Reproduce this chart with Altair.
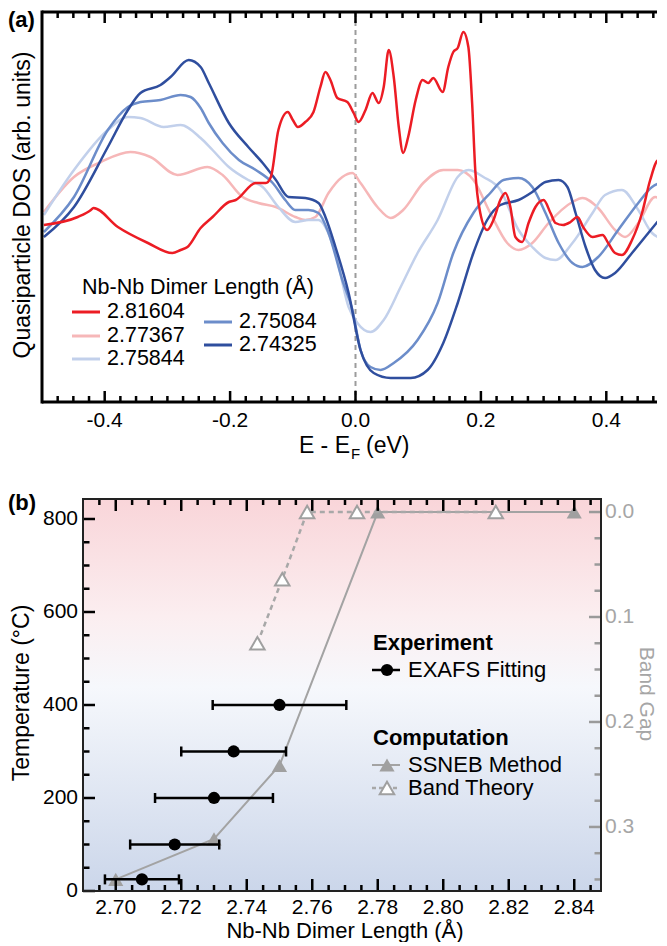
import altair as alt
import pandas as pd

FONT = "Liberation Sans"

# ---------------- Panel (a): quasiparticle DOS (arb. units) vs E - EF (eV) ----------------
E_81604 = [-0.497,-0.443,-0.422,-0.418,-0.379,-0.331,-0.292,-0.279,-0.268,-0.247,-0.228,-0.202,-0.191,-0.159,-0.143,-0.135,-0.123,-0.108,-0.100,-0.092,-0.080,-0.067,-0.056,-0.048,-0.040,-0.029,-0.013,-0.003,0.005,0.016,0.027,0.037,0.045,0.053,0.061,0.069,0.076,0.084,0.096,0.107,0.116,0.124,0.139,0.148,0.156,0.163,0.172,0.180,0.186,0.191,0.199,0.210,0.220,0.231,0.239,0.247,0.255,0.266,0.276,0.287,0.300,0.311,0.319,0.331,0.343,0.354,0.363,0.378,0.394,0.403,0.414,0.425,0.441,0.457,0.470,0.483,0.491,0.497]
DOS_81604 = [177,185,192,194,175,159,149,152,155,174,185,200,202,219,219,225,272,290,282,275,280,290,315,330,322,304,300,289,280,292,309,299,315,352,325,275,249,265,302,322,319,324,310,335,350,354,370,355,299,232,189,172,182,202,209,195,165,160,179,195,202,189,179,177,180,185,175,165,167,159,149,147,162,189,222,242,235,222]

E_77367 = [-0.497,-0.449,-0.406,-0.359,-0.327,-0.284,-0.236,-0.212,-0.180,-0.155,-0.127,-0.096,-0.080,-0.064,-0.043,-0.021,-0.005,0.008,0.035,0.056,0.076,0.108,0.140,0.163,0.188,0.215,0.242,0.260,0.282,0.308,0.346,0.362,0.387,0.414,0.430,0.451,0.478,0.497]
DOS_77367 = [190,225,240,250,245,227,235,227,205,199,195,185,182,185,209,225,229,219,195,184,192,219,232,232,222,189,159,152,159,179,200,204,194,172,165,179,205,195]

E_75844 = [-0.497,-0.449,-0.395,-0.363,-0.343,-0.306,-0.279,-0.247,-0.228,-0.202,-0.171,-0.148,-0.123,-0.096,-0.075,-0.059,-0.048,-0.032,-0.011,0.003,0.024,0.045,0.072,0.099,0.131,0.163,0.180,0.204,0.231,0.260,0.282,0.303,0.319,0.346,0.378,0.398,0.425,0.451,0.473,0.489,0.497]
DOS_75844 = [187,232,272,285,284,275,277,264,252,235,222,215,195,180,182,182,175,149,95,79,70,82,115,149,182,225,232,225,212,172,155,144,142,159,189,207,212,192,169,164,169]

E_75084 = [-0.497,-0.449,-0.395,-0.363,-0.343,-0.311,-0.279,-0.263,-0.247,-0.234,-0.212,-0.186,-0.159,-0.132,-0.112,-0.096,-0.075,-0.059,-0.043,-0.021,-0.005,0.008,0.024,0.040,0.061,0.099,0.131,0.156,0.188,0.215,0.236,0.260,0.282,0.303,0.324,0.346,0.362,0.387,0.419,0.451,0.473,0.489,0.497]
DOS_75084 = [170,205,272,295,300,302,307,305,294,279,259,242,232,219,202,192,192,189,169,122,92,52,35,32,39,62,99,149,189,209,222,224,215,189,159,139,135,145,172,199,215,219,215]

E_74325 = [-0.497,-0.449,-0.395,-0.363,-0.343,-0.311,-0.295,-0.266,-0.247,-0.234,-0.202,-0.171,-0.148,-0.127,-0.107,-0.080,-0.059,-0.048,-0.032,-0.011,0.008,0.029,0.056,0.088,0.115,0.140,0.163,0.188,0.210,0.231,0.260,0.282,0.303,0.324,0.338,0.351,0.367,0.382,0.398,0.414,0.441,0.467,0.497]
DOS_74325 = [165,195,255,292,309,317,325,342,335,319,279,255,239,222,205,204,199,185,155,109,52,29,24,24,32,59,99,149,182,197,202,210,220,222,215,189,155,132,124,129,149,169,192]

series_names = ["2.81604", "2.77367", "2.75844", "2.75084", "2.74325"]
series_colors = ["#ec1c24", "#f6b7b8", "#c2d0eb", "#6c8dca", "#2f4e9e"]

xa_major = [-0.4, -0.2, 0.0, 0.2, 0.4]
xa_labels = ["-0.4", "-0.2", "0.0", "0.2", "0.4"]
xa_minor = [round(-0.5 + 0.025 * i, 3) for i in range(1, 40)]
xa_minor = [v for v in xa_minor if all(abs(v - m) > 1e-6 for m in xa_major)]

# ---------------- Panel (b): temperature / band gap vs Nb-Nb dimer length ----------------
exafs_T = [25, 100, 200, 300, 400]
exafs_r = [2.708, 2.718, 2.730, 2.736, 2.750]
exafs_err = [0.0113, 0.0136, 0.018, 0.016, 0.0204]

ssneb_r = [2.70, 2.73, 2.75, 2.78, 2.84]
ssneb_T = [25, 112, 270, 815, 815]

band_r = [2.74325, 2.75084, 2.75844, 2.77367, 2.81604]
band_gap = [0.125, 0.064, 0.0, 0.0, 0.0]

xb_major = [2.70, 2.72, 2.74, 2.76, 2.78, 2.80, 2.82, 2.84]
xb_labels = ["2.70", "2.72", "2.74", "2.76", "2.78", "2.80", "2.82", "2.84"]
xb_minor = [round(2.69 + 0.005 * i, 3) for i in range(1, 32)]
xb_minor = [v for v in xb_minor if all(abs(v - m) > 1e-6 for m in xb_major)]
tb_major = [0, 200, 400, 600, 800]
tb_labels = ["0", "200", "400", "600", "800"]
tb_minor = [v for v in range(50, 801, 50) if v not in tb_major]
gb_major = [0.0, 0.1, 0.2, 0.3]
gb_labels = ["0.0", "0.1", "0.2", "0.3"]
gb_minor = [0.025, 0.05, 0.075, 0.125, 0.15, 0.175, 0.225, 0.25, 0.275, 0.325, 0.35]

# ---------------- geometry ----------------
W_A, H_A = 615, 390          # 1 eV = 627 px
W_B, H_B = 518, 392          # 0.16 A = 524 px
OFF = 41                     # panel (b) frame starts 41 px right of panel (a) frame
FS = 23                      # text size
LEGFS = 21.5                 # legend text size in (a)
BLEGFS = 22                  # legend text size in (b)
LFS = 21                     # tick label size
one = pd.DataFrame({"k": [0]})


def txt(s, x, y, size=FS, weight="normal", align="left", angle=0, color="black"):
    return alt.Chart(one).mark_text(
        text=s, font=FONT, fontSize=size, fontWeight=weight, align=align,
        baseline="middle", angle=angle, color=color
    ).encode(x=alt.value(x), y=alt.value(y))


def xticks(vals, scale, H, length, color="black", width=2.5):
    df = pd.DataFrame({"v": vals})
    bot = alt.Chart(df).mark_rule(color=color, strokeWidth=width).encode(
        x=alt.X("v:Q", scale=scale, axis=None), y=alt.value(H), y2=alt.value(H - length))
    top = alt.Chart(df).mark_rule(color=color, strokeWidth=width).encode(
        x=alt.X("v:Q", scale=scale, axis=None), y=alt.value(0), y2=alt.value(length))
    return [bot, top]


def yticks(vals, scale, x0, x1, color="black", width=2.5):
    df = pd.DataFrame({"v": vals})
    return alt.Chart(df).mark_rule(color=color, strokeWidth=width).encode(
        y=alt.Y("v:Q", scale=scale, axis=None), x=alt.value(x0), x2=alt.value(x1))


def xlabels(vals, labs, scale, y):
    df = pd.DataFrame({"v": vals, "lab": labs})
    return alt.Chart(df).mark_text(font=FONT, fontSize=LFS, baseline="middle", align="center",
                                   color="black").encode(
        x=alt.X("v:Q", scale=scale, axis=None), y=alt.value(y), text="lab:N")


def ylabels(vals, labs, scale, x, align, color="black"):
    df = pd.DataFrame({"v": vals, "lab": labs})
    return alt.Chart(df).mark_text(font=FONT, fontSize=LFS, baseline="middle", align=align,
                                   color=color).encode(
        y=alt.Y("v:Q", scale=scale, axis=None), x=alt.value(x), text="lab:N")


def hline(x0, x1, y, color, width, dash=None, cap="butt"):
    kw = dict(color=color, strokeWidth=width, strokeCap=cap)
    if dash:
        kw["strokeDash"] = dash
    return alt.Chart(one).mark_rule(**kw).encode(x=alt.value(x0), x2=alt.value(x1), y=alt.value(y))


# ================= Panel (a) =================
xa = alt.Scale(domain=[-0.5, -0.5 + W_A / 627.0], nice=False, zero=False)
ya = alt.Scale(domain=[0, 390], nice=False, zero=False)

zero_line = alt.Chart(pd.DataFrame({"E": [0.0]})).mark_rule(
    color="#9c9c9c", strokeWidth=2, strokeDash=[5, 4]).encode(x=alt.X("E:Q", scale=xa, axis=None))

series_data = {
    "2.81604": (E_81604, DOS_81604),
    "2.77367": (E_77367, DOS_77367),
    "2.75844": (E_75844, DOS_75844),
    "2.75084": (E_75084, DOS_75084),
    "2.74325": (E_74325, DOS_74325),
}
color_of = dict(zip(series_names, series_colors))
draw_order = ["2.77367", "2.75844", "2.75084", "2.74325", "2.81604"]
lines_a = []
for name in draw_order:
    E, D = series_data[name]
    df = pd.DataFrame({"E": E, "DOS": D})
    lines_a.append(alt.Chart(df).mark_line(
        color=color_of[name], strokeWidth=2.5, interpolate="monotone", clip=True).encode(
        x=alt.X("E:Q", scale=xa, axis=None),
        y=alt.Y("DOS:Q", scale=ya, axis=None)))

frame_a = [
    hline(0, W_A, 0, "black", 3),
    hline(0, W_A, H_A, "black", 3),
    alt.Chart(one).mark_rule(color="black", strokeWidth=3, strokeCap="square").encode(
        x=alt.value(0), y=alt.value(0), y2=alt.value(H_A)),
]

ticks_a = xticks(xa_major, xa, H_A, 11) + xticks(xa_minor, xa, H_A, 6)
labels_a = [xlabels(xa_major, xa_labels, xa, H_A + 19)]

legend_a = [txt("Nb-Nb Dimer Length (Å)", 40, 276, size=LEGFS)]
leg_pos = {
    "2.81604": (30, 300), "2.77367": (30, 324), "2.75844": (30, 347),
    "2.75084": (162, 310), "2.74325": (162, 333),
}
for name in series_names:
    lx, ly = leg_pos[name]
    legend_a.append(hline(lx, lx + 28, ly, color_of[name], 3))
    legend_a.append(txt(name, lx + 35, ly, size=LEGFS))

texts_a = [
    txt("(a)", -34, 7.5, size=22, weight="bold"),
    txt("Quasiparticle DOS (arb. units)", -19.5, 193, align="center", angle=270),
    txt("E - E", 308, 433.5, align="right"),
    txt("F", 309, 442, size=15),
    txt("(eV)", 324, 433.5),
]

panel_a = alt.layer(zero_line, *lines_a, *frame_a, *ticks_a, *labels_a, *legend_a, *texts_a).properties(
    width=W_A, height=H_A)

# ================= Panel (b) =================
xs_b = alt.Scale(domain=[2.69, 2.69 + W_B * 0.16 / 524], range=[OFF, OFF + W_B], nice=False, zero=False)
ts = alt.Scale(domain=[0, 843], nice=False, zero=False)
gs = alt.Scale(domain=[-0.0124, 0.361], reverse=True, nice=False, zero=False)

grad = alt.LinearGradient(
    gradient="linear",
    stops=[alt.GradientStop(color="#f9d5d9", offset=0),
           alt.GradientStop(color="#fbeef0", offset=0.3),
           alt.GradientStop(color="#f6f8fc", offset=0.48),
           alt.GradientStop(color="#cbd6ea", offset=1)],
    x1=0, x2=0, y1=0, y2=1)
bg_b = alt.Chart(one).mark_rect(color=grad).encode(
    x=alt.value(OFF), x2=alt.value(OFF + W_B), y=alt.value(0), y2=alt.value(H_B))

ss_df = pd.DataFrame({"r": ssneb_r, "T": ssneb_T})
ss_line = alt.Chart(ss_df).mark_line(color="#a3a3a3", strokeWidth=2).encode(
    x=alt.X("r:Q", scale=xs_b, axis=None), y=alt.Y("T:Q", scale=ts, axis=None))
ss_pts = alt.Chart(ss_df).mark_point(shape="triangle-up", filled=True, size=230, color="#a0a0a0",
                                     opacity=1).encode(
    x=alt.X("r:Q", scale=xs_b, axis=None), y=alt.Y("T:Q", scale=ts, axis=None))

ex_df = pd.DataFrame({"r": exafs_r, "T": exafs_T, "err": exafs_err})
ex_df["lo"] = ex_df["r"] - ex_df["err"]
ex_df["hi"] = ex_df["r"] + ex_df["err"]
err_rule = alt.Chart(ex_df).mark_rule(color="black", strokeWidth=2.5).encode(
    x=alt.X("lo:Q", scale=xs_b, axis=None), x2="hi:Q", y=alt.Y("T:Q", scale=ts, axis=None))
cap_lo = alt.Chart(ex_df).mark_tick(orient="vertical", size=10, thickness=2.5, color="black",
                                    opacity=1).encode(
    x=alt.X("lo:Q", scale=xs_b, axis=None), y=alt.Y("T:Q", scale=ts, axis=None))
cap_hi = alt.Chart(ex_df).mark_tick(orient="vertical", size=10, thickness=2.5, color="black",
                                    opacity=1).encode(
    x=alt.X("hi:Q", scale=xs_b, axis=None), y=alt.Y("T:Q", scale=ts, axis=None))
circles = alt.Chart(ex_df).mark_circle(size=150, color="black", opacity=1).encode(
    x=alt.X("r:Q", scale=xs_b, axis=None), y=alt.Y("T:Q", scale=ts, axis=None))

ticks_b = (xticks(xb_major, xs_b, H_B, 12) + xticks(xb_minor, xs_b, H_B, 6)
           + [yticks(tb_major, ts, OFF, OFF + 12), yticks(tb_minor, ts, OFF, OFF + 6.5)])
labels_b = [xlabels(xb_major, xb_labels, xs_b, H_B + 17),
            ylabels(tb_major, tb_labels, ts, OFF - 5, "right")]

temp_group = alt.layer(bg_b, ss_line, ss_pts, err_rule, cap_lo, cap_hi, circles, *ticks_b, *labels_b)

bt_df = pd.DataFrame({"r": band_r, "gap": band_gap})
bt_line = alt.Chart(bt_df).mark_line(color="#a8a8a8", strokeWidth=2.5, strokeDash=[5, 4]).encode(
    x=alt.X("r:Q", scale=xs_b, axis=None), y=alt.Y("gap:Q", scale=gs, axis=None))
bt_pts = alt.Chart(bt_df).mark_point(shape="triangle-up", filled=True, fill="white", stroke="#a0a0a0",
                                     strokeWidth=2, size=210, opacity=1).encode(
    x=alt.X("r:Q", scale=xs_b, axis=None), y=alt.Y("gap:Q", scale=gs, axis=None))
gticks = [yticks(gb_major, gs, OFF + W_B, OFF + W_B - 12, color="#9a9a9a"),
          yticks(gb_minor, gs, OFF + W_B, OFF + W_B - 6.5, color="#9a9a9a"),
          ylabels(gb_major, gb_labels, gs, OFF + W_B + 4, "left", color="#a6a6a6")]
gap_group = alt.layer(bt_line, bt_pts, *gticks)

frame_b = alt.Chart(one).mark_rect(fillOpacity=0, stroke="#222222", strokeWidth=2).encode(
    x=alt.value(OFF), x2=alt.value(OFF + W_B), y=alt.value(0), y2=alt.value(H_B))

LX = OFF + 289
legend_b = [
    txt("Experiment", LX + 1, 144, size=BLEGFS, weight="bold"),
    hline(LX, LX + 28, 171, "black", 2.5),
    alt.Chart(one).mark_circle(size=150, color="black", opacity=1).encode(
        x=alt.value(LX + 15), y=alt.value(171)),
    txt("EXAFS Fitting", LX + 36, 171, size=BLEGFS),
    txt("Computation", LX + 1, 239, size=BLEGFS, weight="bold"),
    hline(LX, LX + 28, 266, "#a3a3a3", 2),
    alt.Chart(one).mark_point(shape="triangle-up", filled=True, size=230, color="#a0a0a0",
                              opacity=1).encode(x=alt.value(LX + 15), y=alt.value(266)),
    txt("SSNEB Method", LX + 36, 266, size=BLEGFS),
    hline(LX, LX + 28, 289, "#a8a8a8", 2.5, dash=[4, 3]),
    alt.Chart(one).mark_point(shape="triangle-up", filled=True, fill="white", stroke="#a0a0a0",
                              strokeWidth=2, size=210, opacity=1).encode(
        x=alt.value(LX + 15), y=alt.value(289)),
    txt("Band Theory", LX + 36, 289, size=BLEGFS),
]

texts_b = [
    txt("(b)", -34, 3.5, size=22, weight="bold"),
    txt("Temperature (°C)", -20, 194, align="center", angle=270),
    txt("Band Gap", 604, 195, size=21, align="center", angle=90, color="#a6a6a6"),
    txt("Nb-Nb Dimer Length (Å)", OFF + 262, 432, size=22, align="center"),
]

panel_b = alt.layer(temp_group, gap_group, frame_b, *legend_b, *texts_b).resolve_scale(
    y="independent").properties(width=OFF + W_B, height=H_B)

chart = alt.vconcat(panel_a, panel_b, spacing=29).properties(
    padding={"left": 0, "top": 0, "right": 0, "bottom": 0}
).configure(font=FONT).configure_view(stroke=None)

chart.save("out.html", embed_options={"renderer": "svg", "actions": False})
